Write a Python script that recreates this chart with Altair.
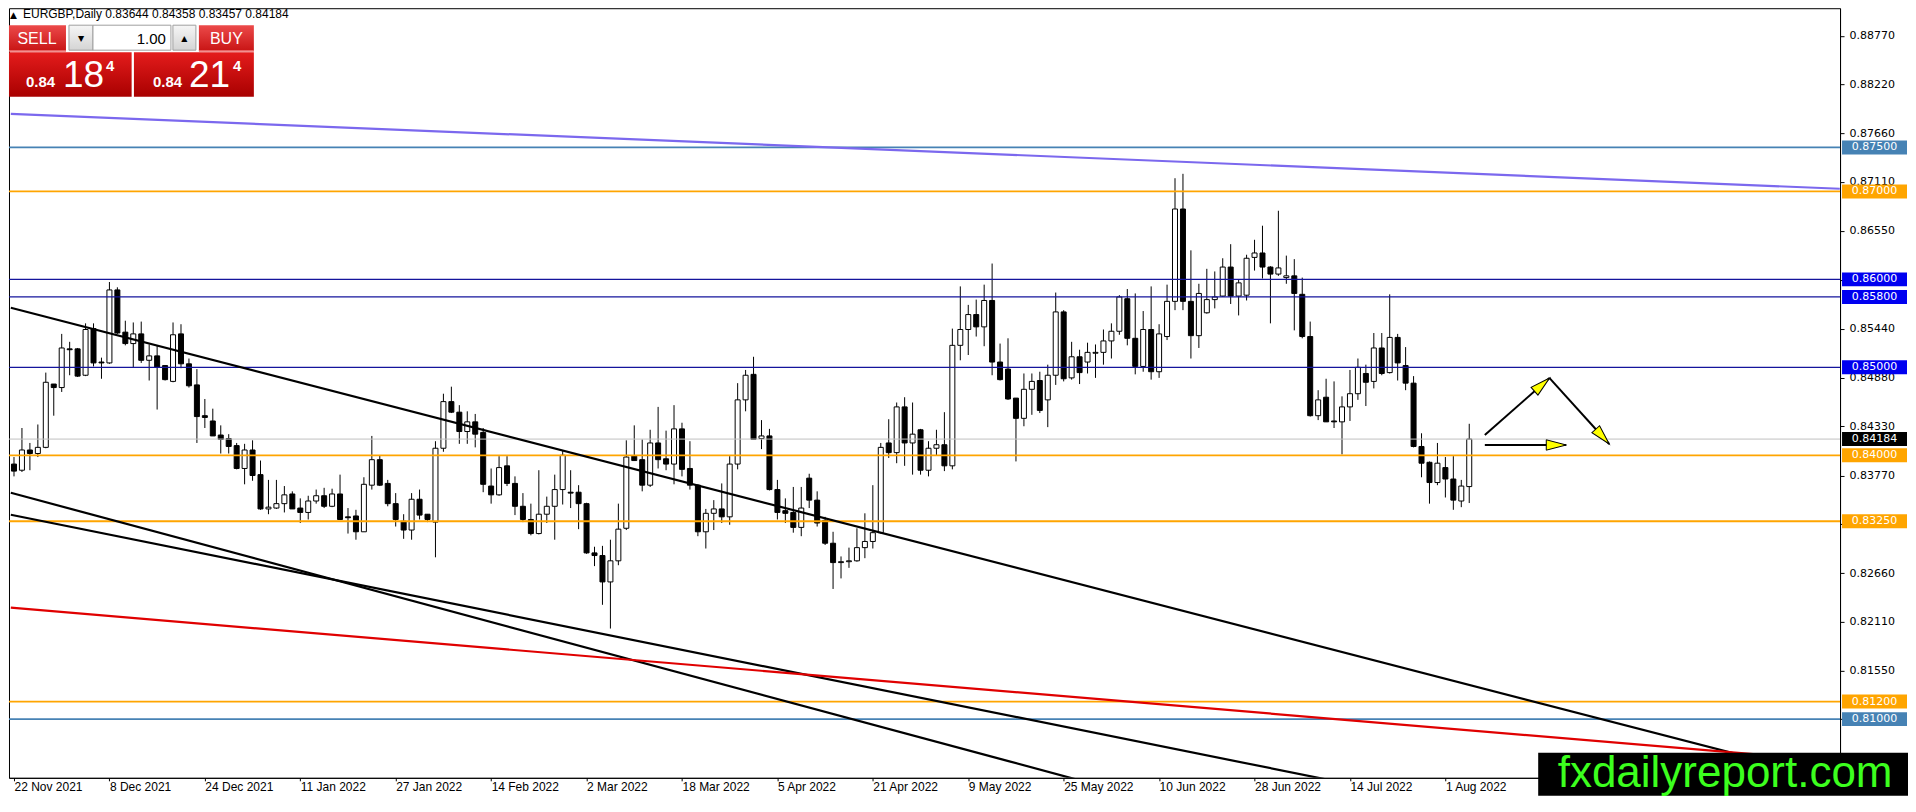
import math
import altair as alt
import pandas as pd

# ---------------- data ----------------
opens = [
    0.8390, 0.8383, 0.8406, 0.8402, 0.8409, 0.8481, 0.8477, 0.8521, 0.8521, 0.8491,
    0.8544, 0.8506, 0.8505, 0.8588, 0.8540, 0.8527, 0.8538, 0.8508, 0.8513, 0.8502,
    0.8484, 0.8538, 0.8504, 0.8480, 0.8445, 0.8439, 0.8423, 0.8419, 0.8411, 0.8385,
    0.8406, 0.8378, 0.8339, 0.8340, 0.8345, 0.8356, 0.8340, 0.8335, 0.8348, 0.8354,
    0.8342, 0.8356, 0.8330, 0.8331, 0.8313, 0.8366, 0.8395, 0.8368, 0.8345, 0.8325,
    0.8315, 0.8350, 0.8333, 0.8324, 0.8408, 0.8461, 0.8449, 0.8427, 0.8438, 0.8426,
    0.8365, 0.8355, 0.8388, 0.8368, 0.8342, 0.8327, 0.8311, 0.8333, 0.8342, 0.8361,
    0.8358, 0.8358, 0.8345, 0.8289, 0.8286, 0.8256, 0.8280, 0.8317, 0.8399, 0.8395,
    0.8366, 0.8414, 0.8396, 0.8390, 0.8430, 0.8385, 0.8366, 0.8313, 0.8334, 0.8339,
    0.8330, 0.8390, 0.8463, 0.8492, 0.8419, 0.8422, 0.8361, 0.8337, 0.8335, 0.8318,
    0.8374, 0.8349, 0.8326, 0.8300, 0.8278, 0.8279, 0.8280, 0.8295, 0.8302, 0.8312,
    0.8414, 0.8403, 0.8455, 0.8414, 0.8429, 0.8383, 0.8408, 0.8412, 0.8388, 0.8525,
    0.8543, 0.8560, 0.8546, 0.8576, 0.8506, 0.8498, 0.8465, 0.8442, 0.8475, 0.8485,
    0.8463, 0.8491, 0.8563, 0.8488, 0.8512, 0.8506, 0.8516, 0.8517, 0.8530, 0.8541,
    0.8578, 0.8533, 0.8501, 0.8543, 0.8495, 0.8535, 0.8575, 0.8680, 0.8575, 0.8536,
    0.8562, 0.8577, 0.8581, 0.8614, 0.8581, 0.8582, 0.8625, 0.8630, 0.8614, 0.8606,
    0.8602, 0.8604, 0.8583, 0.8535, 0.8445, 0.8466, 0.8439, 0.8438, 0.8455, 0.8470,
    0.8493, 0.8484, 0.8522, 0.8494, 0.8534, 0.8502, 0.8482, 0.8410, 0.8392, 0.8369,
    0.8386, 0.8373, 0.8348, 0.83644,
]
highs = [
    0.8398, 0.8431, 0.8414, 0.8435, 0.8494, 0.8481, 0.8538, 0.8529, 0.8522, 0.8550,
    0.8550, 0.8511, 0.8597, 0.8591, 0.8553, 0.8551, 0.8552, 0.8526, 0.8525, 0.8502,
    0.8551, 0.8549, 0.8510, 0.8498, 0.8464, 0.8453, 0.8434, 0.8424, 0.8414, 0.8413,
    0.8417, 0.8394, 0.8372, 0.8372, 0.8365, 0.8359, 0.8351, 0.8354, 0.8361, 0.8363,
    0.8362, 0.8378, 0.8340, 0.8338, 0.8375, 0.8422, 0.8400, 0.8372, 0.8357, 0.8333,
    0.8357, 0.8361, 0.8333, 0.8416, 0.8470, 0.8478, 0.8457, 0.8450, 0.8447, 0.8431,
    0.8385, 0.8399, 0.8399, 0.8376, 0.8357, 0.8345, 0.8383, 0.8353, 0.8378, 0.8405,
    0.8383, 0.8366, 0.8346, 0.8296, 0.8297, 0.8304, 0.8345, 0.8417, 0.8434, 0.8418,
    0.8429, 0.8455, 0.8428, 0.8457, 0.8437, 0.8416, 0.8367, 0.8339, 0.8349, 0.8368,
    0.8399, 0.8482, 0.8497, 0.8512, 0.8440, 0.8430, 0.8372, 0.8351, 0.8364, 0.8364,
    0.8379, 0.8359, 0.8330, 0.8313, 0.8285, 0.8295, 0.8317, 0.8334, 0.8366, 0.8414,
    0.8441, 0.8460, 0.8466, 0.8460, 0.8430, 0.8416, 0.8429, 0.8449, 0.8544, 0.8592,
    0.8571, 0.8577, 0.8594, 0.8618, 0.8527, 0.8533, 0.8465, 0.8493, 0.8493, 0.8495,
    0.8503, 0.8585, 0.8565, 0.8529, 0.8520, 0.8528, 0.8526, 0.8543, 0.8550, 0.8582,
    0.8589, 0.8584, 0.8564, 0.8592, 0.8549, 0.8594, 0.8715, 0.8720, 0.8633, 0.8595,
    0.8612, 0.8609, 0.8624, 0.8640, 0.8600, 0.8628, 0.8645, 0.8661, 0.8615, 0.8678,
    0.8627, 0.8623, 0.8602, 0.8552, 0.8474, 0.8487, 0.8484, 0.8467, 0.8497, 0.8510,
    0.8503, 0.8539, 0.8539, 0.8583, 0.8538, 0.8523, 0.8490, 0.8425, 0.8393, 0.8414,
    0.8398, 0.8399, 0.8372, 0.84358,
]
lows = [
    0.8376, 0.8381, 0.8383, 0.8398, 0.8408, 0.8445, 0.8472, 0.8491, 0.8489, 0.8490,
    0.8501, 0.8487, 0.8504, 0.8538, 0.8525, 0.8500, 0.8505, 0.8485, 0.8452, 0.8485,
    0.8483, 0.8499, 0.8477, 0.8414, 0.8431, 0.8422, 0.8402, 0.8402, 0.8384, 0.8367,
    0.8371, 0.8338, 0.8333, 0.8339, 0.8335, 0.8339, 0.8323, 0.8327, 0.8345, 0.8340,
    0.8341, 0.8327, 0.8311, 0.8304, 0.8313, 0.8361, 0.8365, 0.8342, 0.8319, 0.8305,
    0.8304, 0.8327, 0.8324, 0.8284, 0.8404, 0.8448, 0.8413, 0.8413, 0.8409, 0.8358,
    0.8345, 0.8354, 0.8365, 0.8332, 0.8324, 0.8309, 0.8310, 0.8323, 0.8304, 0.8344,
    0.8340, 0.8316, 0.8288, 0.8274, 0.8230, 0.8203, 0.8275, 0.8315, 0.8394, 0.8359,
    0.8364, 0.8385, 0.8383, 0.8367, 0.8376, 0.8361, 0.8308, 0.8294, 0.8315, 0.8323,
    0.8321, 0.8384, 0.8450, 0.8418, 0.8407, 0.8360, 0.8327, 0.8323, 0.8312, 0.8308,
    0.8340, 0.8319, 0.8298, 0.8248, 0.8260, 0.8272, 0.8279, 0.8283, 0.8294, 0.8311,
    0.8397, 0.8391, 0.8388, 0.8378, 0.8378, 0.8376, 0.8400, 0.8382, 0.8384, 0.8508,
    0.8514, 0.8535, 0.8524, 0.8491, 0.8485, 0.8463, 0.8393, 0.8433, 0.8446, 0.8448,
    0.8432, 0.8480, 0.8484, 0.8486, 0.8481, 0.8493, 0.8488, 0.8503, 0.8510, 0.8537,
    0.8525, 0.8492, 0.8495, 0.8486, 0.8488, 0.8531, 0.8565, 0.8565, 0.8510, 0.8522,
    0.8561, 0.8567, 0.8580, 0.8572, 0.8559, 0.8576, 0.8610, 0.8601, 0.8550, 0.8604,
    0.8595, 0.8542, 0.8533, 0.8444, 0.8440, 0.8438, 0.8431, 0.8401, 0.8439, 0.8463,
    0.8456, 0.8476, 0.8491, 0.8493, 0.8485, 0.8474, 0.8409, 0.8375, 0.8345, 0.8366,
    0.8352, 0.8338, 0.8341, 0.83457,
]
closes = [
    0.8382, 0.8406, 0.8402, 0.8409, 0.8483, 0.8477, 0.8522, 0.8520, 0.8490, 0.8543,
    0.8505, 0.8505, 0.8588, 0.8539, 0.8527, 0.8538, 0.8508, 0.8513, 0.8500, 0.8486,
    0.8537, 0.8504, 0.8479, 0.8444, 0.8443, 0.8422, 0.8418, 0.8410, 0.8385, 0.8406,
    0.8377, 0.8339, 0.8341, 0.8345, 0.8355, 0.8339, 0.8335, 0.8348, 0.8354, 0.8342,
    0.8356, 0.8327, 0.8329, 0.8313, 0.8367, 0.8395, 0.8366, 0.8345, 0.8327, 0.8315,
    0.8350, 0.8332, 0.8327, 0.8408, 0.8461, 0.8449, 0.8427, 0.8438, 0.8424, 0.8367,
    0.8355, 0.8386, 0.8368, 0.8342, 0.8327, 0.8311, 0.8333, 0.8342, 0.8361, 0.8400,
    0.8357, 0.8345, 0.8289, 0.8286, 0.8256, 0.8280, 0.8316, 0.8398, 0.8394, 0.8366,
    0.8414, 0.8395, 0.8390, 0.8430, 0.8384, 0.8366, 0.8313, 0.8334, 0.8339, 0.8330,
    0.8390, 0.8463, 0.8491, 0.8418, 0.8422, 0.8361, 0.8335, 0.8334, 0.8318, 0.8340,
    0.8349, 0.8323, 0.8300, 0.8278, 0.8279, 0.8280, 0.8295, 0.8302, 0.8312, 0.8409,
    0.8403, 0.8455, 0.8414, 0.8424, 0.8383, 0.8408, 0.8412, 0.8388, 0.8525, 0.8543,
    0.8560, 0.8546, 0.8576, 0.8506, 0.8486, 0.8464, 0.8442, 0.8475, 0.8484, 0.8451,
    0.8491, 0.8563, 0.8487, 0.8512, 0.8494, 0.8517, 0.8517, 0.8530, 0.8541, 0.8580,
    0.8533, 0.8501, 0.8543, 0.8495, 0.8538, 0.8575, 0.8680, 0.8575, 0.8536, 0.8584,
    0.8577, 0.8580, 0.8614, 0.8581, 0.8596, 0.8624, 0.8630, 0.8614, 0.8606, 0.8613,
    0.8604, 0.8584, 0.8535, 0.8445, 0.8463, 0.8438, 0.8438, 0.8455, 0.8470, 0.8500,
    0.8483, 0.8522, 0.8493, 0.8534, 0.8505, 0.8482, 0.8410, 0.8391, 0.8369, 0.8391,
    0.8373, 0.8349, 0.8365, 0.84184,
]

date_labels = ["22 Nov 2021", "8 Dec 2021", "24 Dec 2021", "11 Jan 2022", "27 Jan 2022",
               "14 Feb 2022", "2 Mar 2022", "18 Mar 2022", "5 Apr 2022", "21 Apr 2022",
               "9 May 2022", "25 May 2022", "10 Jun 2022", "28 Jun 2022", "14 Jul 2022",
               "1 Aug 2022"]
bars_per_label = 12

price_ticks = [0.88770, 0.88220, 0.87660, 0.87110, 0.86550, 0.85990, 0.85440, 0.84880,
               0.84330, 0.83770, 0.83220, 0.82660, 0.82110, 0.81550, 0.81000]

level_prices = [0.875, 0.870, 0.860, 0.858, 0.850, 0.84184, 0.840, 0.8325, 0.812, 0.810]
level_line_colors = ["#4682B4", "#FFA500", "#14149C", "#14149C", "#14149C", "#C0C0C0",
                     "#FFA500", "#FFA500", "#FFA500", "#4682B4"]
level_box_colors = ["#4682B4", "#FFA500", "#0000F0", "#0000F0", "#0000F0", "#000000",
                    "#FFA500", "#FFA500", "#FFA500", "#4682B4"]
level_widths = [1.8, 1.8, 1.3, 1.3, 1.3, 1.0, 1.8, 1.8, 1.8, 1.8]

trend_x0 = [-0.4, -0.4, -0.4, -0.4, -0.4]
trend_x1 = [229.6, 229.6, 229.6, 229.6, 229.6]
trend_p0 = [0.87882, 0.85677, 0.83574, 0.83324, 0.82267]
trend_p1 = [0.87030, 0.80300, 0.77979, 0.79140, 0.80519]
trend_colors = ["#7B68EE", "#000000", "#000000", "#000000", "#E00000"]

arrow_x0 = [184.96, 193.1, 184.96]
arrow_p0 = [0.84231, 0.84878, 0.84117]
arrow_x1 = [193.1, 200.6, 195.2]
arrow_p1 = [0.84878, 0.84128, 0.84117]

symbol_title = "EURGBP,Daily"
bid_ask = [0.84184, 0.84214]
lot_size = "1.00"
watermark = "fxdailyreport.com"

# ---------------- layout ----------------
W, H = 1832, 770
X_DOM = [0, 229]
Y_DOM = [0.80333, 0.89083]
PX_BAR = W / (X_DOM[1] - X_DOM[0])
PX_PRICE = H / (Y_DOM[1] - Y_DOM[0])

n = len(opens)
candles = pd.DataFrame({
    "i": list(range(n)),
    "open": opens, "high": highs, "low": lows, "close": closes,
})
candles["top"] = candles[["open", "close"]].max(axis=1)
candles["bot"] = candles[["open", "close"]].min(axis=1)
candles["fill"] = ["#FFFFFF" if c >= o else "#000000" for o, c in zip(opens, closes)]

label_array = "[" + ",".join("'" + s + "'" for s in date_labels) + "]"
xaxis = alt.Axis(values=[k * bars_per_label for k in range(len(date_labels))],
                 labelExpr=label_array + "[round(datum.value / %d)]" % bars_per_label,
                 orient="bottom", title=None, grid=False, labelAlign="left",
                 labelFont="Liberation Sans", labelFontSize=12, labelColor="#000000",
                 labelPadding=1, tickSize=3, tickColor="#000000", domainColor="#000000",
                 labelFlush=False, labelOverlap=False, labelBound=False)
yaxis = alt.Axis(values=price_ticks, format=".5f", orient="right", title=None, grid=False,
                 labelFont="DejaVu Sans", labelFontSize=11, labelColor="#000000",
                 labelPadding=5, tickSize=4, tickColor="#000000", domainColor="#000000",
                 labelOverlap=False, labelFlush=False, labelBound=False)
xscale = alt.Scale(domain=X_DOM, nice=False, zero=False)
yscale = alt.Scale(domain=Y_DOM, nice=False, zero=False)


def X(f):
    return alt.X(f, type="quantitative", scale=xscale, axis=xaxis)


def Y(f):
    return alt.Y(f, type="quantitative", scale=yscale, axis=yaxis)


wicks = alt.Chart(candles).mark_rule(color="#000000", strokeWidth=1).encode(
    x=X("i"), y=Y("low"), y2="high")
bodies = alt.Chart(candles).mark_bar(size=5, stroke="#000000", strokeWidth=1).encode(
    x=X("i"), y=Y("bot"), y2="top", fill=alt.Fill("fill:N", scale=None))

levels = pd.DataFrame({"price": level_prices, "lc": level_line_colors,
                       "bc": level_box_colors, "w": level_widths,
                       "txt": ["%.5f" % p for p in level_prices]})
level_lines = alt.Chart(levels).mark_rule().encode(
    y=Y("price"), color=alt.Color("lc:N", scale=None),
    strokeWidth=alt.StrokeWidth("w:Q", scale=None))

trends = pd.DataFrame({"x0": trend_x0, "x1": trend_x1, "p0": trend_p0, "p1": trend_p1,
                       "c": trend_colors})
trend_lines = alt.Chart(trends).mark_rule(clip=True, strokeWidth=2.2).encode(
    x=X("x0"), x2="x1", y=Y("p0"), y2="p1", color=alt.Color("c:N", scale=None))

arrows = pd.DataFrame({"x0": arrow_x0, "x1": arrow_x1, "p0": arrow_p0, "p1": arrow_p1})
arrows["ang"] = [
    math.degrees(math.atan2(-(b - a) * PX_PRICE, (d - c) * PX_BAR)) % 360
    for a, b, c, d in zip(arrow_p0, arrow_p1, arrow_x0, arrow_x1)
]
arrow_lines = alt.Chart(arrows).mark_rule(color="#000000", strokeWidth=2).encode(
    x=X("x0"), x2="x1", y=Y("p0"), y2="p1")
arrow_heads = alt.Chart(arrows).mark_point(
    shape="M 0 0 L -1 -0.26 L -1 0.26 Z", filled=True, fill="#FFFF00",
    stroke="#000000", strokeWidth=1, opacity=1, size=1600).encode(
    x=X("x1"), y=Y("p1"), angle=alt.Angle("ang:Q", scale=None))

BOX_X = W + 34.5
level_boxes = alt.Chart(levels).mark_point(
    shape="M -1 -0.215 H 1 V 0.215 H -1 Z", filled=True, opacity=1, size=65 * 65,
    strokeWidth=0).encode(
    x=alt.value(BOX_X), y=Y("price"), fill=alt.Fill("bc:N", scale=None))
level_texts = alt.Chart(levels).mark_text(
    color="#FFFFFF", font="DejaVu Sans", fontSize=11, align="center",
    baseline="middle").encode(x=alt.value(BOX_X), y=Y("price"), text="txt:N")

ONE = alt.Data(values=[{"k": 1}])


def rect(x, x2, y, y2, **kw):
    return alt.Chart(ONE).mark_rect(**kw).encode(
        x=alt.value(x), x2=alt.value(x2), y=alt.value(y), y2=alt.value(y2))


def txt(x, y, s, **kw):
    return alt.Chart(ONE).mark_text(text=s, **kw).encode(x=alt.value(x), y=alt.value(y))


btn_grad = alt.LinearGradient(gradient="linear", x1=0, x2=0, y1=0, y2=1,
                              stops=[alt.GradientStop(color="#EC4A4A", offset=0),
                                     alt.GradientStop(color="#C81414", offset=1)])
box_grad = alt.LinearGradient(gradient="linear", x1=0, x2=0, y1=0, y2=1,
                              stops=[alt.GradientStop(color="#E41C1C", offset=0),
                                     alt.GradientStop(color="#A80000", offset=1)])
spin_grad = alt.LinearGradient(gradient="linear", x1=0, x2=0, y1=0, y2=1,
                               stops=[alt.GradientStop(color="#F6F6F6", offset=0),
                                      alt.GradientStop(color="#D4D4D4", offset=1)])

bid_s = "%.5f" % bid_ask[0]
ask_s = "%.5f" % bid_ask[1]

widget = [
    rect(0, 57, 17, 43, fill=btn_grad),
    rect(190, 245, 17, 43, fill=btn_grad),
    rect(0, 57, 42, 43.5, fill="#F08080"),
    rect(190, 245, 42, 43.5, fill="#F08080"),
    rect(60, 84, 17, 42, fill=spin_grad, stroke="#A0A0A0", strokeWidth=1),
    rect(84, 162, 17, 42, fill="#FFFFFF", stroke="#A0A0A0", strokeWidth=1),
    rect(164, 187, 17, 42, fill=spin_grad, stroke="#A0A0A0", strokeWidth=1),
    rect(0, 122.7, 44, 88.7, fill=box_grad),
    rect(125, 245, 44, 88.7, fill=box_grad),
    txt(28, 36, "SELL", color="#FFFFFF", font="Liberation Sans", fontSize=16,
        align="center", baseline="alphabetic"),
    txt(217.5, 36, "BUY", color="#FFFFFF", font="Liberation Sans", fontSize=16,
        align="center", baseline="alphabetic"),
    txt(72, 33, "▼", color="#000000", font="DejaVu Sans", fontSize=8, align="center",
        baseline="alphabetic"),
    txt(175.5, 33, "▲", color="#000000", font="DejaVu Sans", fontSize=8, align="center",
        baseline="alphabetic"),
    txt(157, 36, lot_size, color="#000000", font="Liberation Sans", fontSize=15,
        align="right", baseline="alphabetic"),
    txt(17, 79, bid_s[:4], color="#FFFFFF", font="Liberation Sans", fontSize=15,
        fontWeight="bold", align="left", baseline="alphabetic"),
    txt(54, 79, bid_s[4:6], color="#FFFFFF", font="Liberation Sans", fontSize=37,
        align="left", baseline="alphabetic"),
    txt(97, 63, bid_s[6], color="#FFFFFF", font="Liberation Sans", fontSize=15,
        fontWeight="bold", align="left", baseline="alphabetic"),
    txt(144, 79, ask_s[:4], color="#FFFFFF", font="Liberation Sans", fontSize=15,
        fontWeight="bold", align="left", baseline="alphabetic"),
    txt(180, 79, ask_s[4:6], color="#FFFFFF", font="Liberation Sans", fontSize=37,
        align="left", baseline="alphabetic"),
    txt(224, 63, ask_s[6], color="#FFFFFF", font="Liberation Sans", fontSize=15,
        fontWeight="bold", align="left", baseline="alphabetic"),
]

header = "%s  %.5f %.5f %.5f %.5f" % (symbol_title, opens[-1], highs[-1], lows[-1], closes[-1])
header_layers = [
    txt(1, 10, "▲", color="#000000", font="DejaVu Sans", fontSize=9, align="left",
        baseline="alphabetic"),
    txt(14, 10, header, color="#000000", font="Liberation Sans", fontSize=12,
        align="left", baseline="alphabetic"),
]

wm_layers = [
    rect(1530, 1900, 745, 788, fill="#000000"),
    txt(1717, 779, watermark, color="#3CFF1E", font="Liberation Sans", fontSize=44,
        align="center", baseline="alphabetic"),
]

chart = alt.layer(
    wicks, bodies, level_lines, trend_lines, arrow_lines, arrow_heads,
    level_boxes, level_texts, *header_layers, *widget, *wm_layers
).properties(
    width=W, height=H, padding=0, background="#FFFFFF"
).configure_view(
    stroke="#000000", strokeWidth=1
)

chart.save("out.html", embed_options={"renderer": "svg", "actions": False})
